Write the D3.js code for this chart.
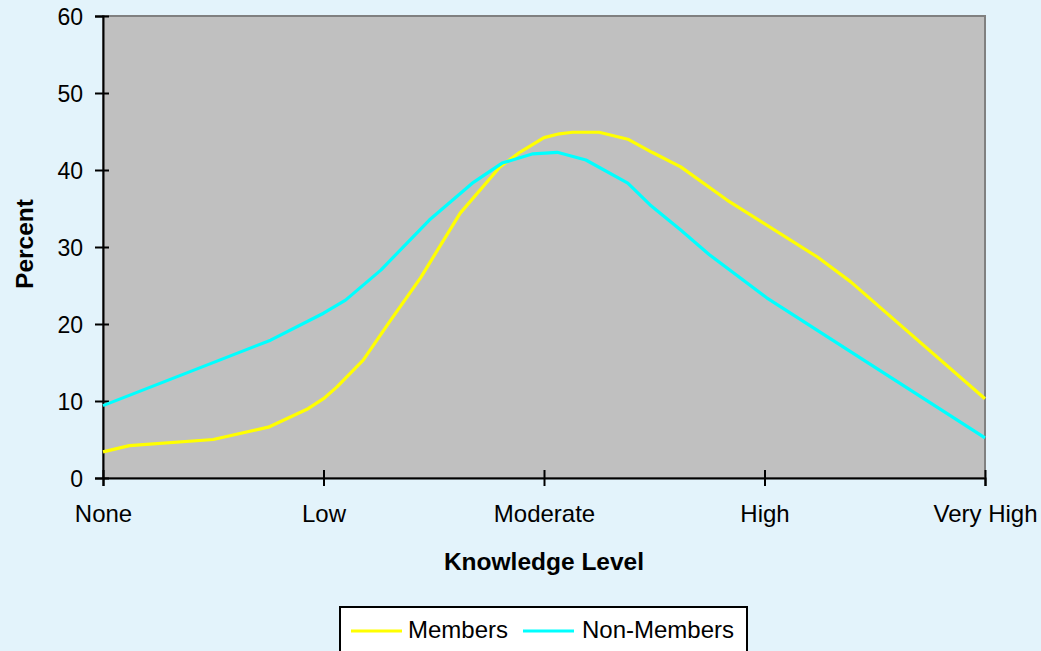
<!DOCTYPE html>
<html>
<head>
<meta charset="utf-8">
<script src="https://cdn.jsdelivr.net/npm/d3@7"></script>
<style>
  html, body { margin: 0; padding: 0; background: #e3f3fb; }
  svg { display: block; }
  text { font-family: "Liberation Sans", Arial, sans-serif; fill: #000; }
</style>
</head>
<body>
<svg id="chart" width="1041" height="651"></svg>
<script>
// Knowledge level categories on the x axis
const levels = ["None", "Low", "Moderate", "High", "Very High"];
const yTicks = [0, 10, 20, 30, 40, 50, 60];

// Members: position along the knowledge scale (0 = None ... 4 = Very High) and percent
const membersPos = [0, 0.12, 0.5, 0.75, 0.93, 1.0, 1.06, 1.18, 1.30, 1.44, 1.62, 1.80, 1.89, 2.0, 2.07, 2.13, 2.25, 2.38, 2.49, 2.62, 2.83, 3.24, 3.39, 4.0];
const membersPct = [3.4, 4.2, 5.0, 6.6, 9.0, 10.3, 11.8, 15.3, 20.3, 26.0, 34.4, 40.4, 42.3, 44.2, 44.7, 44.9, 44.9, 44.0, 42.3, 40.4, 36.1, 28.7, 25.5, 10.3];

// Non-members
const nonMembersPos = [0, 0.76, 1.0, 1.1, 1.26, 1.48, 1.68, 1.81, 1.95, 2.06, 2.19, 2.38, 2.48, 2.62, 2.75, 3.01, 4.0];
const nonMembersPct = [9.4, 17.9, 21.4, 23.1, 27.0, 33.5, 38.4, 40.9, 42.1, 42.3, 41.3, 38.3, 35.5, 32.2, 29.0, 23.4, 5.2];

const seriesNames = ["Members", "Non-Members"];
const seriesColors = ["#ffff00", "#00ffff"];

const svg = d3.select("#chart");
const margin = { left: 103, top: 16, right: 56, bottom: 173 };
const W = 1041, H = 651;
const iw = W - margin.left - margin.right;
const ih = H - margin.top - margin.bottom;

const x = d3.scaleLinear().domain([0, levels.length - 1]).range([0, iw]);
const y = d3.scaleLinear().domain([0, 60]).range([ih, 0]);

const g = svg.append("g").attr("transform", `translate(${margin.left},${margin.top})`);

// plot area
g.append("rect").attr("x", 0).attr("y", 0).attr("width", iw).attr("height", ih)
  .attr("fill", "#c0c0c0").attr("stroke", "#808080").attr("stroke-width", 2);

const series = [
  { name: seriesNames[0], color: seriesColors[0], pts: membersPos.map((p, i) => [p, membersPct[i]]) },
  { name: seriesNames[1], color: seriesColors[1], pts: nonMembersPos.map((p, i) => [p, nonMembersPct[i]]) }
];
const line = d3.line().x(d => x(d[0])).y(d => y(d[1])).curve(d3.curveLinear);

// y axis
const yAxis = d3.axisLeft(y).tickValues(yTicks).tickSize(8).tickPadding(12).tickFormat(d3.format("d"));
const yg = g.append("g").call(yAxis);
yg.select(".domain").attr("stroke", "#000").attr("stroke-width", 2);
yg.selectAll(".tick line").attr("stroke", "#000").attr("stroke-width", 2).attr("x2", -8).attr("x1", 6);
yg.selectAll(".tick text").attr("font-size", 23).attr("dy", "0.36em");

// x axis
const xAxis = d3.axisBottom(x).tickValues(d3.range(levels.length)).tickFormat(i => levels[i]).tickSize(8).tickPadding(0);
const xg = g.append("g").attr("transform", `translate(0,${ih})`).call(xAxis);
xg.select(".domain").attr("stroke", "#000").attr("stroke-width", 2);
xg.selectAll(".tick line").attr("stroke", "#000").attr("stroke-width", 2).attr("y1", -8).attr("y2", 8);
xg.selectAll(".tick text").attr("font-size", 24).attr("y", 44).attr("dy", null);

// series lines
series.forEach(s => {
  g.append("path").datum(s.pts).attr("d", line)
    .attr("fill", "none").attr("stroke", s.color).attr("stroke-width", 3.2)
    .attr("stroke-linejoin", "round");
});

// axis titles
svg.append("text").attr("x", margin.left + iw / 2).attr("y", 570)
  .attr("text-anchor", "middle").attr("font-size", 24.5).attr("font-weight", "bold")
  .text("Knowledge Level");
svg.append("text").attr("transform", "translate(33,244) rotate(-90)")
  .attr("text-anchor", "middle").attr("font-size", 24.5).attr("font-weight", "bold")
  .text("Percent");

// legend
const lg = svg.append("g");
lg.append("rect").attr("x", 340).attr("y", 607).attr("width", 407).attr("height", 60)
  .attr("fill", "#fff").attr("stroke", "#000").attr("stroke-width", 2);
const items = [{ x: 351, tx: 408 }, { x: 523, tx: 582 }];
series.forEach((s, i) => {
  lg.append("line").attr("x1", items[i].x).attr("x2", items[i].x + 51)
    .attr("y1", 631).attr("y2", 631).attr("stroke", s.color).attr("stroke-width", 3.2);
  lg.append("text").attr("x", items[i].tx).attr("y", 638).attr("font-size", 24).text(s.name);
});
</script>
</body>
</html>
